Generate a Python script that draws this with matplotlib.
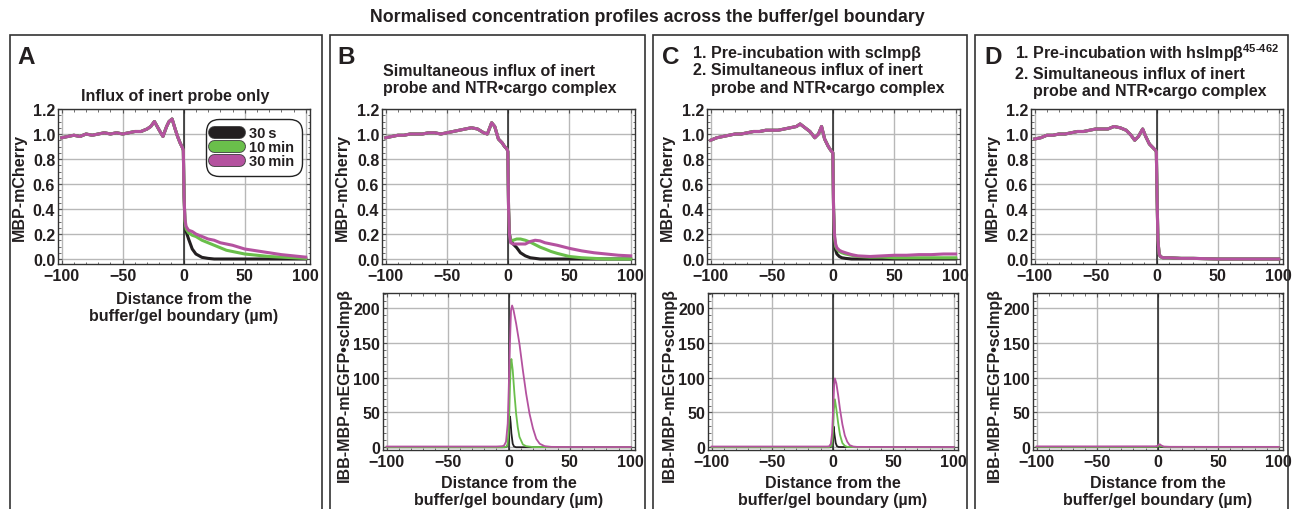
import numpy as np
import matplotlib
matplotlib.use('Agg')
import matplotlib.pyplot as plt
from matplotlib.lines import Line2D
from matplotlib.patches import Rectangle
import matplotlib.patheffects as pe
from matplotlib.ticker import MultipleLocator, FormatStrFormatter

plt.rcParams['font.family'] = ['Liberation Sans', 'DejaVu Sans']
plt.rcParams['font.weight'] = 'bold'
plt.rcParams['mathtext.fontset'] = 'custom'
plt.rcParams['mathtext.rm'] = 'Liberation Sans:bold'
plt.rcParams['mathtext.bf'] = 'Liberation Sans:bold'
plt.rcParams['mathtext.default'] = 'bf'

TXT = '#231f20'
C_BLACK = '#231f20'
C_GREEN = '#6abf4b'
C_MAG = '#b4529f'

series_names = ['30\u2009s', '10\u2009min', '30\u2009min']

# ---- MBP-mCherry profiles (top row) ----
# left side (buffer) is the same for all three time points
a_xl = [-100, -95, -90, -85, -80, -75, -70, -65, -60, -55, -50, -45, -40, -35, -30, -27, -24, -20, -17, -14, -12, -9.5, -7, -5, -3, -1, -0.3]
a_yl = [0.97, 0.98, 0.99, 0.98, 1.0, 0.99, 1.0, 1.01, 1.0, 1.01, 1.0, 1.01, 1.02, 1.02, 1.04, 1.06, 1.10, 1.03, 0.98, 1.06, 1.10, 1.12, 1.04, 0.98, 0.93, 0.89, 0.87]
a_xr = [0.3, 1, 2, 4, 7, 10, 15, 20, 25, 30, 35, 40, 50, 60, 70, 80, 90, 100]
a_black = [0.5, 0.3, 0.22, 0.16, 0.08, 0.04, 0.013, 0.005, 0.0, 0.0, 0.0, 0.0, 0.0, 0.0, 0.0, 0.0, 0.0, 0.0]
a_green = [0.5, 0.3, 0.24, 0.21, 0.19, 0.18, 0.15, 0.13, 0.11, 0.09, 0.07, 0.06, 0.04, 0.03, 0.02, 0.015, 0.01, 0.005]
a_mag = [0.5, 0.32, 0.26, 0.23, 0.22, 0.2, 0.18, 0.16, 0.15, 0.13, 0.12, 0.11, 0.08, 0.065, 0.05, 0.035, 0.025, 0.015]

b_xl = [-100, -95, -90, -85, -80, -75, -70, -65, -60, -55, -50, -45, -40, -35, -30, -25, -20, -17, -13.5, -11, -8, -5, -3, -1, -0.3]
b_yl = [0.97, 0.98, 0.99, 0.99, 1.0, 1.0, 1.0, 1.01, 1.01, 1.0, 1.01, 1.02, 1.03, 1.04, 1.05, 1.04, 1.01, 1.0, 1.09, 1.06, 0.96, 0.93, 0.9, 0.88, 0.86]
b_xr = [0.3, 1, 2, 4, 7, 10, 14, 18, 22, 26, 30, 35, 40, 50, 60, 70, 80, 90, 100]
b_black = [0.4, 0.2, 0.15, 0.12, 0.09, 0.05, 0.025, 0.01, 0.005, 0.0, 0.0, 0.0, 0.0, 0.0, 0.0, 0.0, 0.0, 0.0, 0.0]
b_green = [0.4, 0.2, 0.15, 0.15, 0.16, 0.16, 0.15, 0.135, 0.115, 0.095, 0.08, 0.06, 0.045, 0.02, 0.01, 0.005, 0.0, 0.0, 0.0]
b_mag = [0.4, 0.2, 0.13, 0.12, 0.12, 0.12, 0.12, 0.14, 0.15, 0.145, 0.13, 0.12, 0.11, 0.085, 0.065, 0.05, 0.04, 0.03, 0.025]

c_xl = [-100, -95, -90, -85, -80, -75, -70, -65, -60, -55, -50, -45, -40, -35, -30, -27, -23, -19, -15, -12, -9.5, -7, -4, -2, -0.3]
c_yl = [0.95, 0.97, 0.98, 0.99, 1.0, 1.0, 1.01, 1.02, 1.02, 1.03, 1.03, 1.03, 1.04, 1.05, 1.06, 1.08, 1.05, 1.02, 0.97, 1.0, 1.06, 0.96, 0.9, 0.87, 0.85]
c_xr = [0.3, 1, 2, 3, 5, 7, 10, 15, 20, 30, 40, 50, 60, 70, 80, 90, 100]
c_black = [0.4, 0.15, 0.07, 0.04, 0.02, 0.01, 0.005, 0, 0, 0, 0, 0, 0, 0, 0, 0, 0]
c_green = [0.4, 0.18, 0.1, 0.08, 0.06, 0.05, 0.04, 0.03, 0.02, 0.015, 0.015, 0.01, 0.01, 0.01, 0.01, 0.01, 0.01]
c_mag = [0.4, 0.2, 0.12, 0.09, 0.07, 0.06, 0.05, 0.035, 0.025, 0.02, 0.025, 0.03, 0.03, 0.035, 0.035, 0.04, 0.04]

d_xl = [-100, -95, -90, -85, -80, -75, -70, -65, -60, -55, -50, -45, -40, -35, -30, -25, -21, -18, -15, -11.5, -9, -6, -3, -1, -0.3]
d_yl = [0.96, 0.97, 0.99, 0.99, 1.0, 1.0, 1.01, 1.02, 1.02, 1.03, 1.04, 1.04, 1.04, 1.06, 1.05, 1.03, 0.99, 0.95, 0.98, 1.04, 0.98, 0.92, 0.89, 0.87, 0.86]
d_xr = [0.3, 1, 2, 3, 5, 10, 20, 30, 50, 70, 100]
d_black = [0.5, 0.15, 0.04, 0.02, 0.01, 0.01, 0.005, 0.005, 0.0, 0.0, 0.0]
d_green = [0.5, 0.15, 0.04, 0.02, 0.01, 0.01, 0.005, 0.005, 0.0, 0.0, 0.0]
d_mag = [0.5, 0.15, 0.04, 0.02, 0.01, 0.01, 0.005, 0.005, 0.0, 0.0, 0.0]

# ---- IBB-MBP-mEGFP.scImpb profiles (bottom row) ----
b2_x_mag = [-100, -50, -10, -5, -3.6, -2.2, -0.8, 0, 1.1, 1.9, 2.8, 4, 6.1, 8.8, 11.6, 14.3, 17.1, 19.9, 22.6, 25.4, 29.5, 35, 50, 100]
b2_mag = [1, 1, 1, 1.5, 3, 8, 34, 82, 154, 197, 204, 197, 178, 149, 111, 77, 48, 27, 12, 5, 1.5, 0.5, 0.3, 0.3]
b2_x_green = [-100, -5, -2, -1, 0, 1.1, 1.7, 2.2, 3.3, 4.7, 6.1, 7.4, 8.8, 11.6, 14.3, 20, 100]
b2_green = [0, 0, 0.5, 3, 24, 92, 120, 127, 111, 77, 48, 29, 15, 4, 1.5, 0.2, 0]
b2_x_black = [-100, -3, -1.5, -0.5, 0, 0.6, 1.1, 1.6, 2.2, 3.3, 4.4, 6, 100]
b2_black = [0, 0, 1, 5, 15, 35, 44, 35, 20, 5, 1, 0, 0]

c2_x_mag = [-100, -50, -5, -3, -1.5, -0.5, 0.5, 1.2, 1.8, 3, 4.5, 6, 8, 10, 12, 14, 17, 20, 50, 100]
c2_mag = [1, 1, 1, 1.2, 5, 20, 60, 90, 99, 92, 75, 55, 33, 17, 8, 3, 1, 0.5, 0.3, 0.3]
c2_x_green = [-100, -3, -1, 0, 1, 1.8, 3, 4.5, 6, 8, 10, 12, 20, 100]
c2_green = [0, 0, 2, 15, 55, 69, 55, 35, 18, 6, 2, 0.5, 0, 0]
c2_x_black = [-100, -2, -1, 0, 0.7, 1.5, 2.5, 3.5, 5, 100]
c2_black = [0, 0, 1, 12, 30, 18, 6, 1.5, 0.3, 0]

d2_x = [-100, -50, -2, 0, 1, 2, 3, 5, 10, 50, 100]
d2_mag = [1.2, 1.2, 1.3, 2, 4, 4, 2.5, 1, 0.6, 0.5, 0.5]
d2_green = [0.3, 0.3, 0.4, 1, 2, 2, 1.2, 0.5, 0.2, 0.1, 0.1]
d2_black = [0, 0, 0.1, 0.5, 1, 0.8, 0.3, 0.1, 0, 0, 0]

W, H = 1295, 510
fig = plt.figure(figsize=(W / 100, H / 100), dpi=100)


def box(x0, y0, x1, y1):
    # pixel box (top-left origin) -> figure fraction rect
    return [x0 / W, 1 - y1 / H, (x1 - x0) / W, (y1 - y0) / H]


def style_axes(ax, top=True):
    ax.set_xlim(-103, 103.5)
    ax.xaxis.set_major_locator(MultipleLocator(50))
    ax.xaxis.set_minor_locator(MultipleLocator(10))
    if top:
        ax.set_ylim(-0.04, 1.2)
        ax.yaxis.set_major_locator(MultipleLocator(0.2))
        ax.yaxis.set_minor_locator(MultipleLocator(0.05))
        ax.yaxis.set_major_formatter(FormatStrFormatter('%.1f'))
    else:
        ax.set_ylim(-4, 222)
        ax.yaxis.set_major_locator(MultipleLocator(50))
        ax.yaxis.set_minor_locator(MultipleLocator(10))
    ax.grid(True, which='major', color='#b8b8b8', lw=1.0)
    ax.set_axisbelow(True)
    ax.tick_params(which='both', direction='in', top=True, right=True, colors='#555555',
                   labelcolor=TXT, labelsize=11.5, pad=2)
    ax.tick_params(axis='x', pad=3)
    ax.tick_params(which='major', length=3)
    ax.tick_params(which='minor', length=1.8)
    for sp in ax.spines.values():
        sp.set_color('#333333')
        sp.set_linewidth(1.0)
    ax.axvline(0, color='#222222', lw=1.1, zorder=1.5)


def top_plot(ax, xl, yl, xr, yb, yg, ym):
    for yr, c in zip([yb, yg, ym], [C_BLACK, C_GREEN, C_MAG]):
        ax.plot(xl + xr, yl + yr, color=c, lw=2.2, solid_joinstyle='round')
    style_axes(ax, top=True)
    ax.set_ylabel('MBP-mCherry', fontsize=11.5, fontweight='bold', color=TXT)
    ax.yaxis.set_label_coords(-0.125, 0.5)


def bottom_plot(ax, curves):
    for x, y, c in curves:
        ax.plot(x, y, color=c, lw=1.3)
    style_axes(ax, top=False)
    ax.set_ylabel('IBB-MBP-mEGFP•scImpβ', fontsize=11.5, fontweight='bold', color=TXT)
    ax.yaxis.set_label_coords(-0.125, 0.42)


def xlab(ax, pad):
    ax.set_xlabel('Distance from the\nbuffer/gel boundary (µm)', fontsize=11.5,
                  fontweight='bold', color=TXT, labelpad=pad, linespacing=1.15)


# panel frames
for x0, x1 in [(10, 322), (330, 645), (653, 967), (975, 1288)]:
    fig.add_artist(Rectangle((x0 / W, -0.05), (x1 - x0) / W, 1.05 - 36 / H,
                             transform=fig.transFigure, fill=False,
                             edgecolor='#333333', lw=1.2))

fig.text(0.5, 1 - 18 / H, 'Normalised concentration profiles across the buffer/gel boundary',
         ha='center', va='center', fontsize=12.8, fontweight='bold', color=TXT)

# A
axA = fig.add_axes(box(58, 110, 310, 265))
top_plot(axA, a_xl, a_yl, a_xr, a_black, a_green, a_mag)
xlab(axA, 6)
handles = [Line2D([], [], color=c, lw=8, solid_capstyle='round',
                  path_effects=[pe.Stroke(linewidth=9.3, foreground='#444444', capstyle='round'), pe.Normal()])
           for c in [C_BLACK, C_GREEN, C_MAG]]
leg = axA.legend(handles, series_names, loc='upper right', bbox_to_anchor=(0.95, 0.91),
                 borderaxespad=0, fontsize=10.5, handlelength=1.75, handletextpad=0.7,
                 labelspacing=0.02, borderpad=0.2, framealpha=1, edgecolor='#222222', fancybox=True)
leg.get_frame().set_boxstyle('round,pad=0.3,rounding_size=0.9')
leg.get_frame().set_linewidth(1.0)
for t in leg.get_texts():
    t.set_fontweight('bold')
    t.set_color(TXT)

# B
axB = fig.add_axes(box(382, 110, 635, 265))
top_plot(axB, b_xl, b_yl, b_xr, b_black, b_green, b_mag)
axB2 = fig.add_axes(box(383, 294, 635, 451))
bottom_plot(axB2, [(b2_x_black, b2_black, C_BLACK), (b2_x_green, b2_green, C_GREEN),
                   (b2_x_mag, b2_mag, C_MAG)])
xlab(axB2, 4)

# C
axC = fig.add_axes(box(707, 110, 960, 265))
top_plot(axC, c_xl, c_yl, c_xr, c_black, c_green, c_mag)
axC2 = fig.add_axes(box(708, 294, 958, 451))
bottom_plot(axC2, [(c2_x_black, c2_black, C_BLACK), (c2_x_green, c2_green, C_GREEN),
                   (c2_x_mag, c2_mag, C_MAG)])
xlab(axC2, 4)

# D
axD = fig.add_axes(box(1031, 110, 1283, 265))
top_plot(axD, d_xl, d_yl, d_xr, d_black, d_green, d_mag)
axD2 = fig.add_axes(box(1033, 294, 1283, 451))
bottom_plot(axD2, [(d2_x, d2_black, C_BLACK), (d2_x, d2_green, C_GREEN), (d2_x, d2_mag, C_MAG)])
xlab(axD2, 4)

# panel letters and headings
for x, letter in [(17, 'A'), (337, 'B'), (662, 'C'), (984, 'D')]:
    fig.text(x / W, 1 - 58 / H, letter, ha='left', va='center', fontsize=17.5, fontweight='bold', color=TXT)

fig.text(175 / W, 1 - 97 / H, 'Influx of inert probe only', ha='center', va='center',
         fontsize=11.5, fontweight='bold', color=TXT)
fig.text(383 / W, 1 - 80 / H, 'Simultaneous influx of inert\nprobe and NTR•cargo complex',
         ha='left', va='center', fontsize=11.5, fontweight='bold', color=TXT, linespacing=1.2)
fig.text(693 / W, 1 - 71 / H, '1. Pre-incubation with scImpβ\n2. Simultaneous influx of inert\n    probe and NTR•cargo complex',
         ha='left', va='center', fontsize=11.5, fontweight='bold', color=TXT, linespacing=1.2)
fig.text(1015 / W, 1 - 71 / H, '1. Pre-incubation with hsImpβ$^{45\\text{-}462}$\n2. Simultaneous influx of inert\n    probe and NTR•cargo complex',
         ha='left', va='center', fontsize=11.5, fontweight='bold', color=TXT, linespacing=1.2)

fig.savefig('out.png', dpi=100)
